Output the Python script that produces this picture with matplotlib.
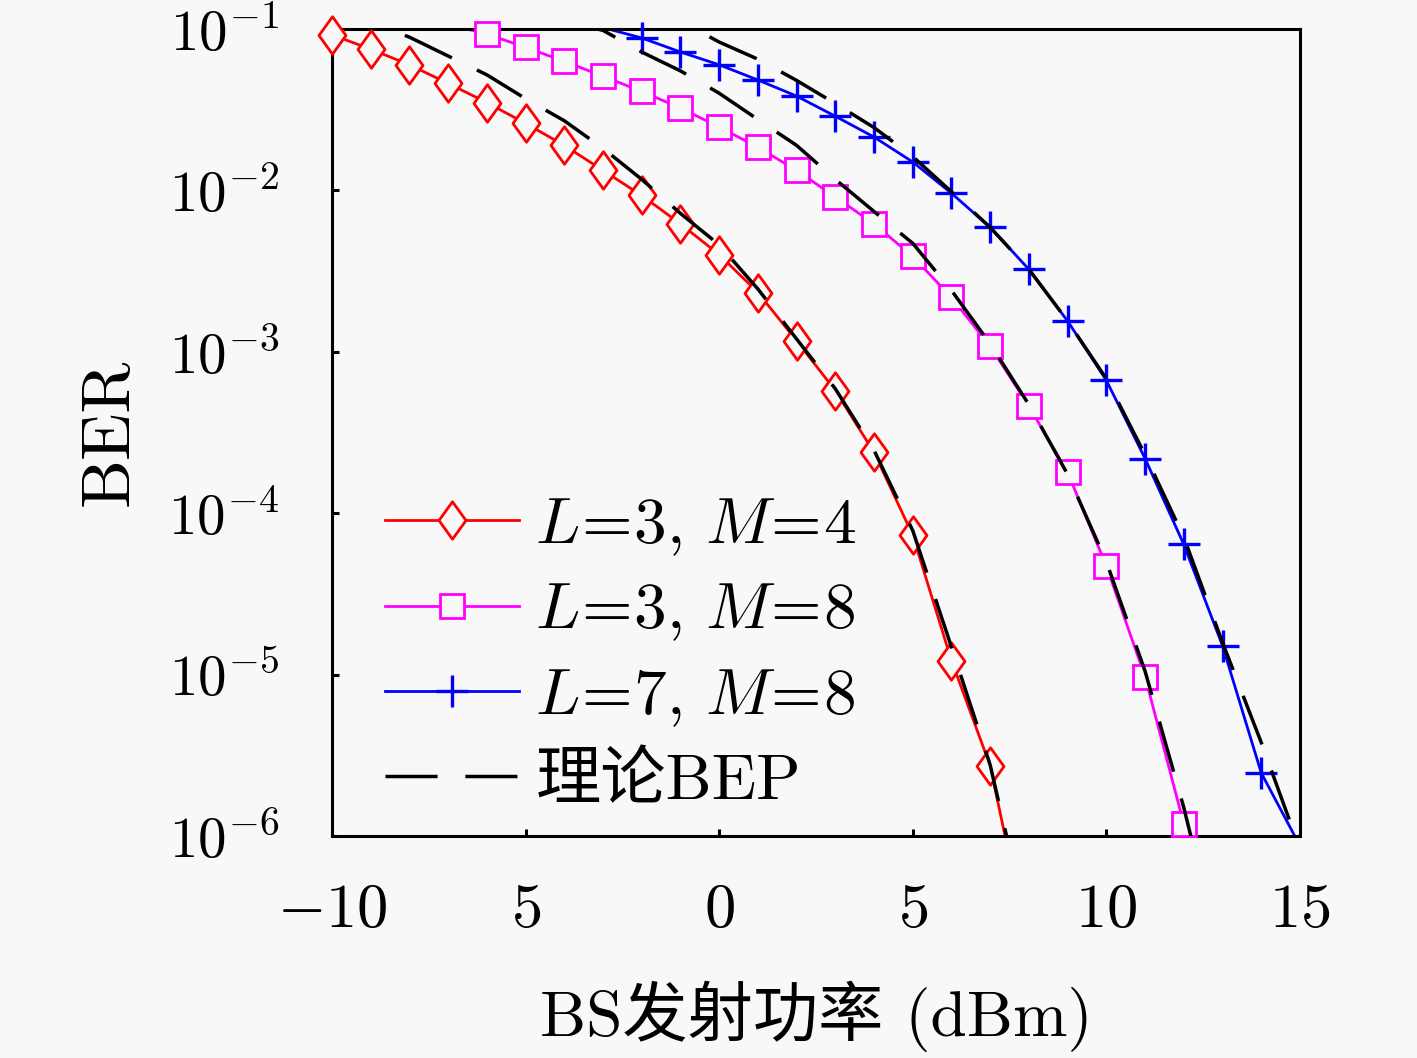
import matplotlib
matplotlib.use("Agg")
import matplotlib.pyplot as plt
import numpy as np
from matplotlib.lines import Line2D
from matplotlib.path import Path
from matplotlib.ticker import NullLocator

plt.rcParams["font.family"] = ["cmr10", "Noto Sans CJK SC"]
plt.rcParams["mathtext.fontset"] = "cm"

# simulated BER, L=3 M=4
x_red = np.arange(-10, 9)
ber_red = [9.2e-2, 7.5e-2, 6.0e-2, 4.6e-2, 3.5e-2, 2.6e-2, 1.9e-2, 1.33e-2, 9.3e-3,
           6.2e-3, 4.0e-3, 2.33e-3, 1.17e-3, 5.75e-4, 2.38e-4, 7.3e-5, 1.22e-5,
           2.72e-6, 2.0e-7]
bep_red = [0.145, 0.110, 8.9e-2, 6.8e-2, 5.2e-2, 3.7e-2, 2.7e-2, 1.82e-2, 1.17e-2,
           7.2e-3, 4.6e-3, 2.45e-3, 1.2e-3, 5.9e-4, 2.45e-4, 7.8e-5, 1.48e-5,
           2.75e-6, 2.5e-7]

# L=3 M=8
x_mag = np.arange(-7, 14)
ber_mag = [0.107, 9.3e-2, 7.7e-2, 6.3e-2, 5.1e-2, 4.1e-2, 3.24e-2, 2.47e-2, 1.85e-2,
           1.33e-2, 9.1e-3, 6.2e-3, 3.9e-3, 2.17e-3, 1.08e-3, 4.6e-4, 1.79e-4,
           4.7e-5, 9.7e-6, 1.19e-6, 5e-8]
bep_mag = [0.178, 0.155, 0.132, 0.112, 9.8e-2, 7.2e-2, 5.5e-2, 4.0e-2, 2.75e-2,
           1.9e-2, 1.17e-2, 7.4e-3, 4.7e-3, 2.4e-3, 1.12e-3, 4.7e-4, 1.74e-4,
           5.0e-5, 1.05e-5, 1.5e-6, 1.6e-7]

# L=7 M=8
x_blue = np.arange(-3, 16)
ber_blue = [0.102, 8.8e-2, 7.2e-2, 6.0e-2, 4.83e-2, 3.84e-2, 2.88e-2, 2.14e-2, 1.5e-2,
            9.6e-3, 5.9e-3, 3.24e-3, 1.55e-3, 6.65e-4, 2.18e-4, 6.4e-5, 1.51e-5,
            2.46e-6, 8.7e-7]
bep_blue = [0.19, 0.151, 0.112, 8.3e-2, 6.5e-2, 4.8e-2, 3.45e-2, 2.45e-2, 1.62e-2,
            9.8e-3, 5.9e-3, 3.24e-3, 1.55e-3, 6.8e-4, 2.3e-4, 7.1e-5, 1.58e-5,
            3.8e-6, 8.3e-7]

labels = [r"$L\!=\!3,\,M\!=\!4$", r"$L\!=\!3,\,M\!=\!8$", r"$L\!=\!7,\,M\!=\!8$"]
theory_label = "理论BEP"

xticks = [-10, -5, 0, 5, 10, 15]
xticklabels = [r"$-10$", r"$5$", r"$0$", r"$5$", r"$10$", r"$15$"]
yticks = [1e-6, 1e-5, 1e-4, 1e-3, 1e-2, 1e-1]
yticklabels = [r"$10^{-6}$", r"$10^{-5}$", r"$10^{-4}$", r"$10^{-3}$", r"$10^{-2}$", r"$10^{-1}$"]

bg = "#f8f8f8"
diamond = Path([(0, 1), (0.72, 0), (0, -1), (-0.72, 0), (0, 1)],
               [Path.MOVETO, Path.LINETO, Path.LINETO, Path.LINETO, Path.CLOSEPOLY])

fig = plt.figure(figsize=(14.17, 10.58), dpi=100, facecolor=bg)
ax = fig.add_axes([0.2343, 0.2098, 0.6831, 0.7628], facecolor=bg)
ax.set_yscale("log")

styles = [
    dict(color="#ff0000", marker=diamond, ms=27, mew=2.0),
    dict(color="#ff00ff", marker="s", ms=17, mew=2.0),
    dict(color="#0000ff", marker="+", ms=23, mew=2.4),
]
series = [(x_red, ber_red, bep_red), (x_mag, ber_mag, bep_mag), (x_blue, ber_blue, bep_blue)]

handles = []
for (x, ber, bep), st, lab in zip(series, styles, labels):
    ber = np.asarray(ber)
    ax.plot(x, ber, color=st["color"], lw=2.0, zorder=2)
    inside = (ber <= 1e-1) & (ber >= 1e-6)
    ax.plot(x[inside], ber[inside], ls="none", marker=st["marker"], ms=st["ms"],
            mew=st["mew"], mec=st["color"], mfc=bg, clip_on=False, zorder=3)
    ax.plot(x, bep, color="black", lw=2.5, dashes=(15, 8), zorder=4)
    handles.append(Line2D([], [], color=st["color"], lw=2.0, marker=st["marker"],
                          ms=st["ms"], mew=st["mew"], mec=st["color"], mfc=bg, label=lab))
handles.append(Line2D([], [], color="black", lw=2.5, dashes=(15, 8), label=theory_label))

ax.set_xlim(-10, 15)
ax.set_ylim(1e-6, 1e-1)
ax.set_xticks(xticks)
ax.set_xticklabels(xticklabels)
ax.set_yticks(yticks)
ax.set_yticklabels(yticklabels)
ax.yaxis.set_minor_locator(NullLocator())
ax.xaxis.set_minor_locator(NullLocator())
ax.tick_params(direction="in", length=5, width=2.2, labelsize=45, pad=34,
               top=False, right=False)
ax.tick_params(axis="y", labelsize=41, pad=38)
for sp in ax.spines.values():
    sp.set_linewidth(2.2)

ax.set_xlabel("BS发射功率 (dBm)", fontsize=47, labelpad=30)
ax.set_ylabel("BER", fontsize=50, labelpad=20)

ax.legend(handles=handles, loc="lower left", bbox_to_anchor=(0.055, 0.03),
          frameon=False, fontsize=47, handlelength=2.05, handletextpad=0.25,
          labelspacing=0.37, borderaxespad=0.0, borderpad=0.0)

fig.savefig("out.png", dpi=100, facecolor=bg)
